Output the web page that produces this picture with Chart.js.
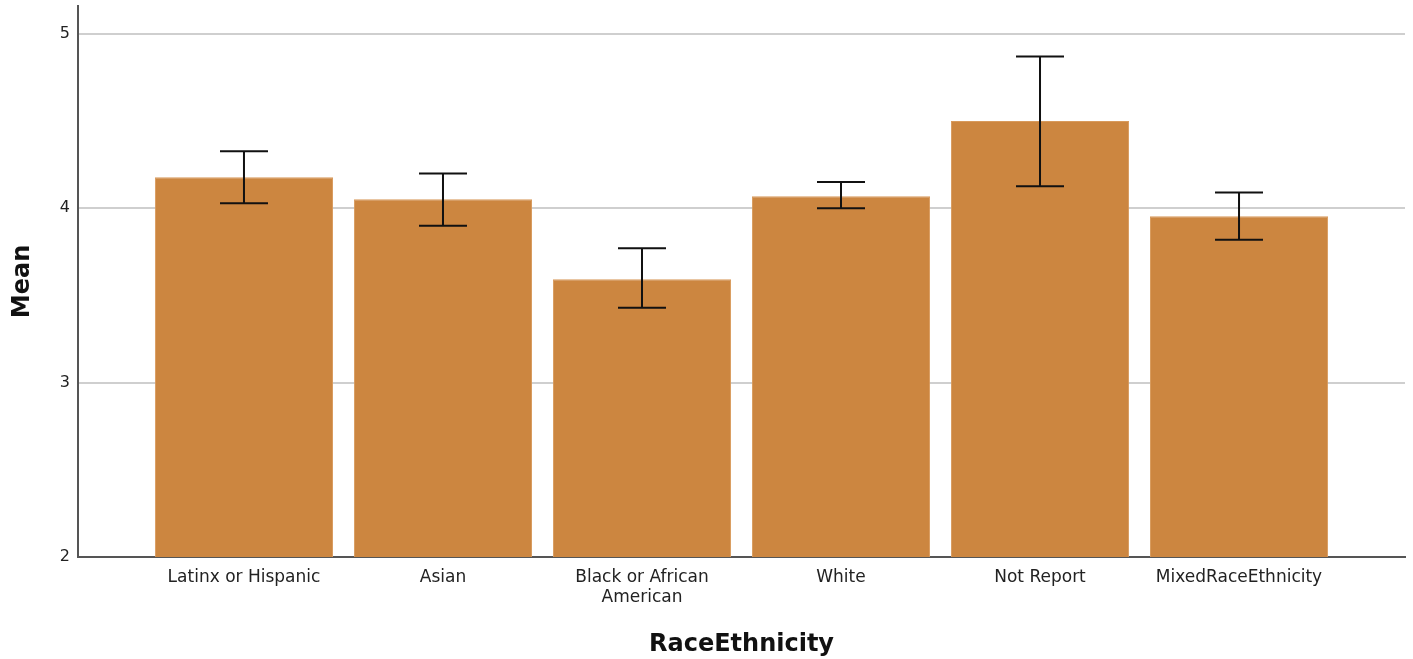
<!DOCTYPE html>
<html lang="en">
<head>
    <meta charset="UTF-8">
    <title>Mean by RaceEthnicity</title>
    <style>
        html, body { margin: 0; padding: 0; background: #fff; }
        #wrap { width: 1413px; height: 659px; }
    </style>
</head>
<body>
<div id="wrap"><canvas id="myChart" width="1413" height="659"></canvas></div>

<script src="https://cdn.jsdelivr.net/npm/chart.js@4/dist/chart.umd.min.js"></script>
<script>
    // ------------------------------------------------------------------ data

    var categories = [
      'Latinx or Hispanic',
      'Asian',
      ['Black or African', 'American'],
      'White',
      'Not Report',
      'MixedRaceEthnicity'
    ]
    var means = [4.178, 4.052, 3.593, 4.069, 4.50, 3.954]
    var errLow = [4.029, 3.90, 3.43, 4.00, 4.126, 3.82]
    var errHigh = [4.327, 4.20, 3.77, 4.15, 4.87, 4.09]
    var yTicks = [2, 3, 4, 5]

    // ----------------------------------------------------------- error bars

    var errorBars = {
      id: 'errorBars',
      afterDatasetsDraw: function (chart) {
        var c = chart.ctx
        var xs = chart.scales.x
        var ys = chart.scales.y
        c.save()
        c.strokeStyle = '#111'
        c.lineWidth = 2
        for (var i = 0; i < means.length; i++) {
          var x = xs.getPixelForValue(i)
          var lo = ys.getPixelForValue(errLow[i])
          var hi = ys.getPixelForValue(errHigh[i])
          c.beginPath()
          c.moveTo(x, lo); c.lineTo(x, hi)
          c.moveTo(x - 24, lo); c.lineTo(x + 24, lo)
          c.moveTo(x - 24, hi); c.lineTo(x + 24, hi)
          c.stroke()
        }
        c.restore()
      }
    }

    // -------------------------------------------------------------- chart.js

    var ctx = document.getElementById('myChart').getContext('2d')
    var myChart = new Chart(ctx, {
      type: 'bar',
      data: {
        datasets: [{
          data: means.map(function (m, i) { return { x: i, y: m } }),
          backgroundColor: '#cc8640',
          borderColor: '#d89a5c',
          borderWidth: 1,
          barPercentage: 0.895,
          categoryPercentage: 1
        }]
      },
      options: {
        responsive: false,
        animation: false,
        layout: { padding: { top: 6, right: 8, left: 0, bottom: 0 } },
        plugins: {
          legend: { display: false },
          tooltip: { enabled: false }
        },
        scales: {
          x: {
            type: 'linear',
            offset: false,
            min: -0.834,
            max: 5.834,
            afterBuildTicks: function (scale) {
              scale.ticks = categories.map(function (c, i) { return { value: i } })
            },
            afterFit: function (scale) {
              scale.height = 102
              scale.paddingLeft = 0
              scale.paddingRight = 0
            },
            grid: { display: false, drawTicks: false, offset: false },
            border: { display: true, color: '#555', width: 2 },
            ticks: {
              autoSkip: false,
              maxRotation: 0,
              padding: 11,
              color: '#222',
              font: { family: 'DejaVu Sans', size: 17, lineHeight: 1.15 },
              callback: function (v) { return categories[v] }
            },
            title: {
              display: true,
              text: 'RaceEthnicity',
              color: '#111',
              font: { family: 'DejaVu Sans', size: 24, weight: 'bold' },
              padding: { top: 15, bottom: 0 }
            }
          },
          y: {
            min: 2,
            max: 5.16,
            afterBuildTicks: function (scale) {
              scale.ticks = yTicks.map(function (v) { return { value: v } })
            },
            afterFit: function (scale) {
              scale.width = 78
              scale.paddingTop = 0
              scale.paddingBottom = 0
            },
            grid: {
              color: function (c) { return c.tick && c.tick.value === 2 ? 'rgba(0,0,0,0)' : '#cfcfcf' },
              lineWidth: 2,
              drawTicks: false
            },
            border: { display: true, color: '#555', width: 2 },
            ticks: {
              padding: 8,
              color: '#222',
              font: { family: 'DejaVu Sans', size: 16 }
            },
            title: {
              display: true,
              text: 'Mean',
              color: '#111',
              font: { family: 'DejaVu Sans', size: 24, weight: 'bold' },
              padding: { top: 8, bottom: 0 }
            }
          }
        }
      },
      plugins: [errorBars]
    })
</script>
</body>
</html>
